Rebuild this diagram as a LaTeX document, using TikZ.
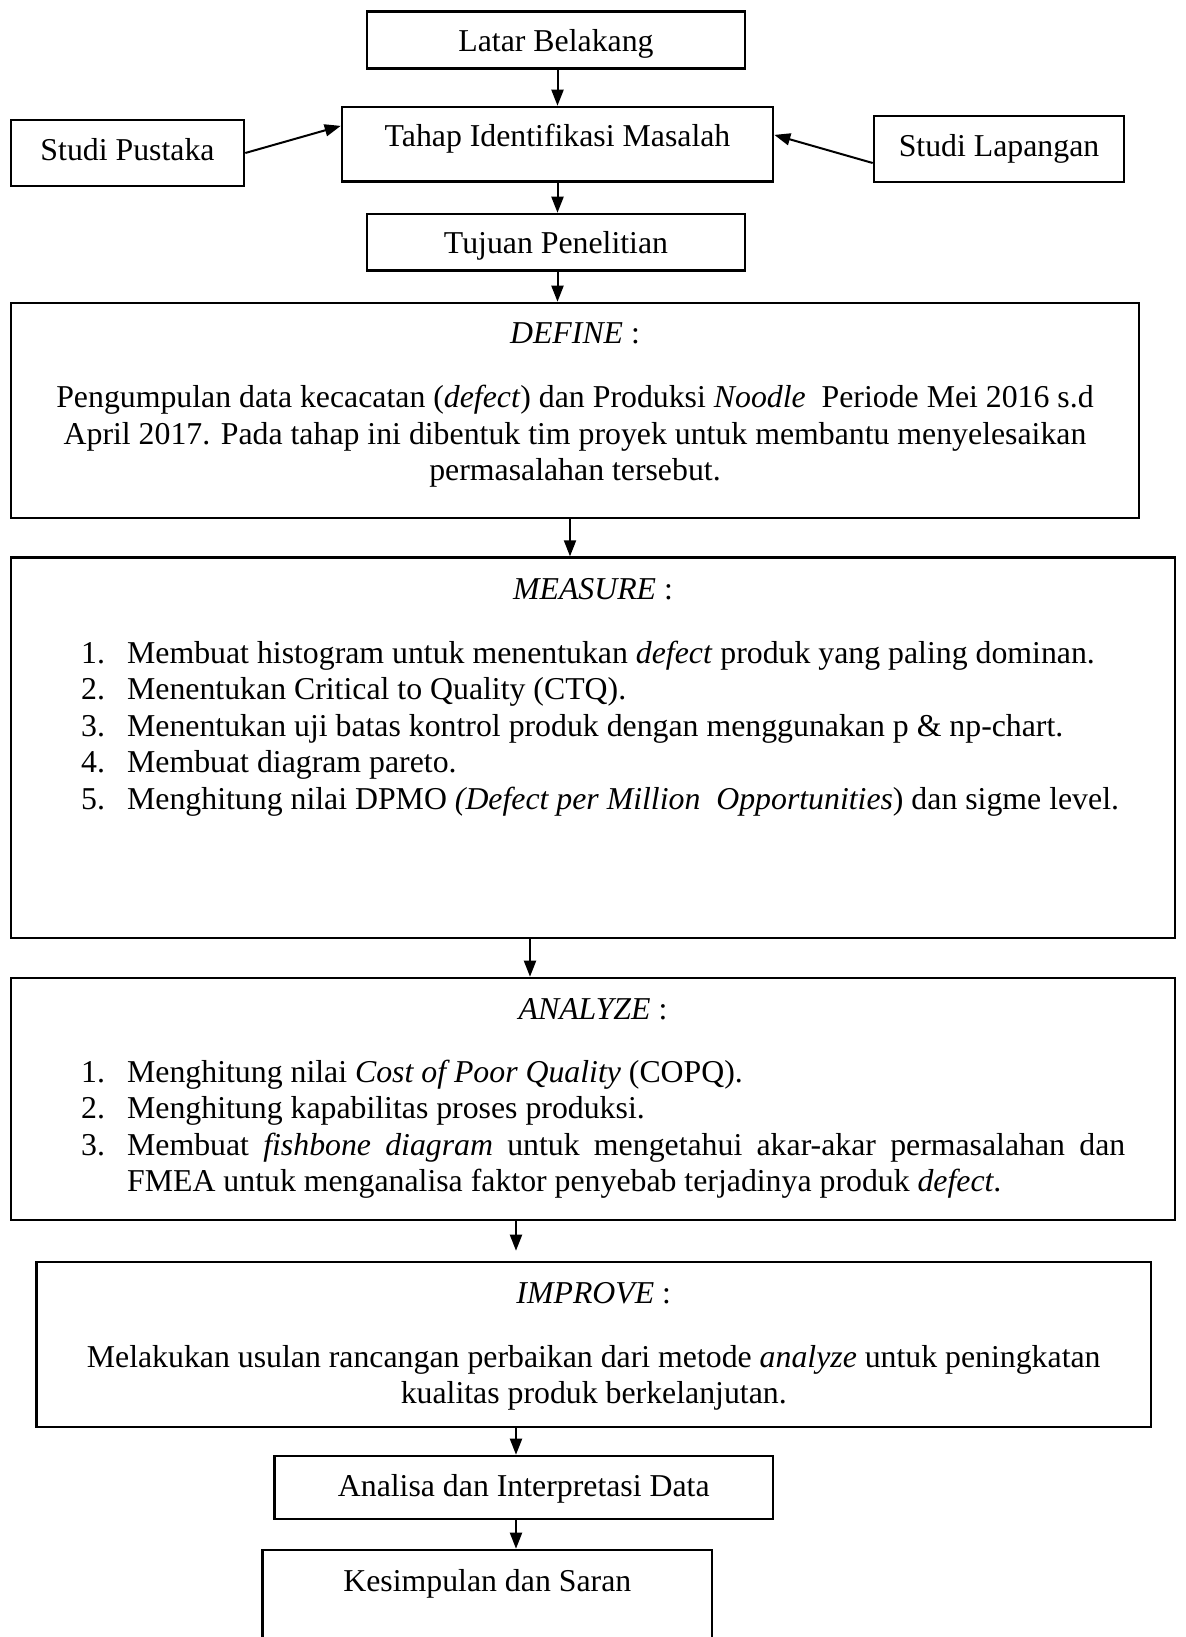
\documentclass[tikz,border=0pt]{standalone}
\usepackage{fontspec}
\setmainfont{Liberation Serif}
\usetikzlibrary{arrows.meta,positioning}

\newcommand{\docfont}{\fontsize{31.8}{36.6}\selectfont}
\newcommand{\listitem}[2]{\hangindent=46pt\hangafter=1\noindent\makebox[46pt][l]{#1}#2\par}

\begin{document}
\begin{tikzpicture}[x=1pt, y=-1pt,
  box/.style={rectangle, draw, line width=2.6pt, align=center, font=\docfont, text height=24pt, text depth=6pt},
  frame/.style={rectangle, draw, line width=2.6pt},
  head/.style={anchor=base, inner sep=0pt, font=\docfont},
  body/.style={anchor=base, inner sep=0pt, align=center, font=\docfont},
  steps/.style={anchor=base west, inner sep=0pt, text width=1044pt, align=justify, font=\docfont},
  arrow/.style={-{Triangle[length=16pt, width=12pt]}, line width=2pt}
]
  \useasboundingbox (0,0) rectangle (1185,1637);
  \clip (0,0) rectangle (1185,1637);

  % top part
  \node[box, minimum width=378pt, minimum height=56.6pt, text height=27pt, text depth=4pt] (latar) at (556,40) {Latar Belakang};
  \node[box, minimum width=431pt, minimum height=74.7pt, text depth=19.5pt] (tahap) at (557.5,144.4) {Tahap Identifikasi Masalah};
  \node[box, minimum width=233pt, minimum height=66pt, text depth=8pt] (pustaka) at (127.5,153) {Studi Pustaka};
  \node[box, minimum width=250pt, minimum height=66pt, text depth=8pt] (lapangan) at (999,149) {Studi Lapangan};
  \node[box, minimum width=378pt, minimum height=56.7pt, text height=27pt, text depth=4pt] (tujuan) at (556,242.4) {Tujuan Penelitian};

  % DMAI boxes
  \node[frame, minimum width=1128pt, minimum height=215pt] (define) at (575,410.5) {};
  \node[head] (define-h) at ([yshift=-42pt]define.north) {\textit{DEFINE} :};
  \node[body] (define-t) at ([yshift=-179.2pt]define.north) {Pengumpulan data kecacatan (\textit{defect}) dan Produksi \textit{Noodle}\ \ Periode Mei 2016 s.d\\April 2017. Pada tahap ini dibentuk tim proyek untuk membantu menyelesaikan\\permasalahan tersebut.};

  \node[frame, minimum width=1164pt, minimum height=380.3pt] (measure) at (593,747.8) {};
  \node[head] (measure-h) at ([yshift=-43pt]measure.north) {\textit{MEASURE} :};
  \node[steps] (measure-t) at (81,663) {%
    \listitem{1.}{Membuat histogram untuk menentukan \textit{defect} produk yang paling dominan.}
    \listitem{2.}{Menentukan Critical to Quality (CTQ).}
    \listitem{3.}{Menentukan uji batas kontrol produk dengan menggunakan p \& np-chart.}
    \listitem{4.}{Membuat diagram pareto.}
    \listitem{5.}{Menghitung nilai DPMO \textit{(Defect per Million\ \ Opportunities}) dan sigme level.}};

  \node[frame, minimum width=1164pt, minimum height=242pt] (analyze) at (593,1099) {};
  \node[head] (analyze-h) at ([yshift=-43pt]analyze.north) {\textit{ANALYZE} :};
  \node[steps] (analyze-t) at (81,1082) {%
    \listitem{1.}{Menghitung nilai \textit{Cost of Poor Quality} (COPQ).}
    \listitem{2.}{Menghitung kapabilitas proses produksi.}
    \listitem{3.}{Membuat \textit{fishbone diagram} untuk mengetahui akar-akar permasalahan dan\linebreak FMEA untuk menganalisa faktor penyebab terjadinya produk \textit{defect}.}};

  \node[frame, minimum width=1114.5pt, minimum height=165pt] (improve) at (593.75,1344.5) {};
  \node[head] (improve-h) at ([yshift=-43pt]improve.north) {\textit{IMPROVE} :};
  \node[body] (improve-t) at ([yshift=-143pt]improve.north) {Melakukan usulan rancangan perbaikan dari metode \textit{analyze} untuk peningkatan\\kualitas produk berkelanjutan.};

  % bottom part
  \node[box, minimum width=498.5pt, minimum height=63pt] (analisa) at (523.75,1487.5) {Analisa dan Interpretasi Data};
  \node[box, minimum width=449.4pt, minimum height=130pt, text depth=70.6pt] (kesimpulan) at (487.3,1615) {Kesimpulan dan Saran};

  % arrows
  \draw[arrow] (latar.south -| tahap.north) -- (tahap.north);
  \draw[arrow] (pustaka.east) -- ([yshift=18.5pt]tahap.west);
  \draw[arrow] ([yshift=-14pt]lapangan.west) -- ([yshift=9.5pt]tahap.east);
  \draw[arrow] (tahap.south) -- (tahap.south |- tujuan.north);
  \draw[arrow] (tahap.south |- tujuan.south) -- (tahap.south |- define.north);
  \coordinate (d1) at ([xshift=-5pt]define.south);
  \draw[arrow] (d1) -- (d1 |- measure.north);
  \coordinate (d2) at ([xshift=-63pt]measure.south);
  \draw[arrow] (d2) -- (d2 |- analyze.north);
  \coordinate (d3) at ([xshift=-77pt]analyze.south);
  \draw[arrow, shorten >=10pt] (d3) -- (d3 |- improve.north);
  \coordinate (d4) at ([xshift=-7.75pt]analisa.north);
  \draw[arrow] (d4 |- improve.south) -- (d4);
  \draw[arrow] (d4 |- analisa.south) -- (d4 |- kesimpulan.north);
\end{tikzpicture}
\end{document}
